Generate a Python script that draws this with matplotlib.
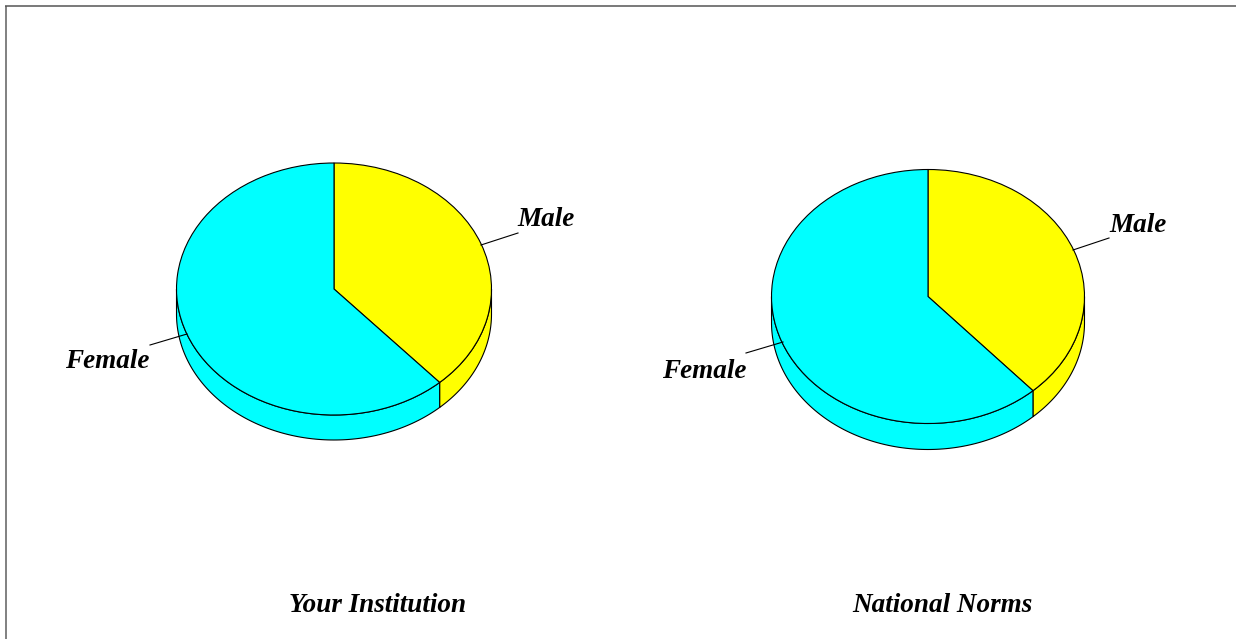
import matplotlib

matplotlib.use("Agg")
import matplotlib.pyplot as plt
import numpy as np

plt.rcParams["font.family"] = ["Liberation Serif", "DejaVu Serif"]

W, H = 1236, 639

# data
slice_names = ["Male", "Female"]
your_institution = [38.3, 61.7]
national_norms = [38.3, 61.7]
chart_titles = ["Your Institution", "National Norms"]
slice_colors = ["#ffff00", "#00ffff"]


def draw_wall(ax, theta_from, theta_to, depth, color):
    # side of the disc, angles in degrees
    t = np.radians(np.linspace(theta_from, theta_to, 120))
    xs = np.cos(t)
    top = np.sin(t)
    px = np.r_[xs, xs[::-1]]
    py = np.r_[top, top[::-1] - depth]
    ax.fill(px, py, facecolor=color, edgecolor="black", lw=0.8)


def draw_pie(fig, values, cx, cy, rx, ry, depth_px):
    depth = depth_px / ry
    pos = [(cx - rx - 2) / W, 1 - (cy + ry + depth_px + 2) / H,
           (2 * rx + 4) / W, (2 * ry + depth_px + 4) / H]
    ax = fig.add_axes(pos)

    split = 90 - 360 * values[0] / sum(values)
    draw_wall(ax, split, 0, depth, slice_colors[0])
    draw_wall(ax, split, -180, depth, slice_colors[1])

    ax.pie(values, colors=slice_colors, startangle=90, counterclock=False,
           radius=1, wedgeprops={"edgecolor": "black", "linewidth": 0.8})
    ax.set_aspect("auto")
    ax.set_xlim(-1 - 2 / rx, 1 + 2 / rx)
    ax.set_ylim(-1 - depth - 2 / ry, 1 + 2 / ry)
    ax.axis("off")


fig = plt.figure(figsize=(W / 100, H / 100), dpi=100, facecolor="white")

draw_pie(fig, your_institution, 334, 289, 157.5, 126, 25)
draw_pie(fig, national_norms, 928, 296.5, 156.5, 127, 26)

# overlay in pixel coords for frame and labels
over = fig.add_axes([0, 0, 1, 1], facecolor="none")
over.set_xlim(0, W)
over.set_ylim(H, 0)
over.axis("off")

over.plot([6, 6], [H, 6], color="#808080", lw=1.4, solid_capstyle="butt")
over.plot([5, W], [6, 6], color="#555555", lw=1.1, solid_capstyle="butt")

over.plot([481, 518], [245, 233], color="black", lw=0.8)
over.plot([187, 150], [334, 345], color="black", lw=0.8)
over.plot([1073, 1109], [250, 238], color="black", lw=0.8)
over.plot([783, 746], [342, 353], color="black", lw=0.8)

label_style = dict(ha="center", va="center", fontsize=19.5, fontweight="bold",
                   fontstyle="italic", color="black")
over.text(545.5, 220, slice_names[0], **label_style)
over.text(107, 362, slice_names[1], **label_style)
over.text(1137.5, 226, slice_names[0], **label_style)
over.text(704, 372, slice_names[1], **label_style)
over.text(378, 605, chart_titles[0], **label_style)
over.text(942.5, 605, chart_titles[1], **label_style)

fig.savefig("out.png", dpi=100)
plt.close(fig)
